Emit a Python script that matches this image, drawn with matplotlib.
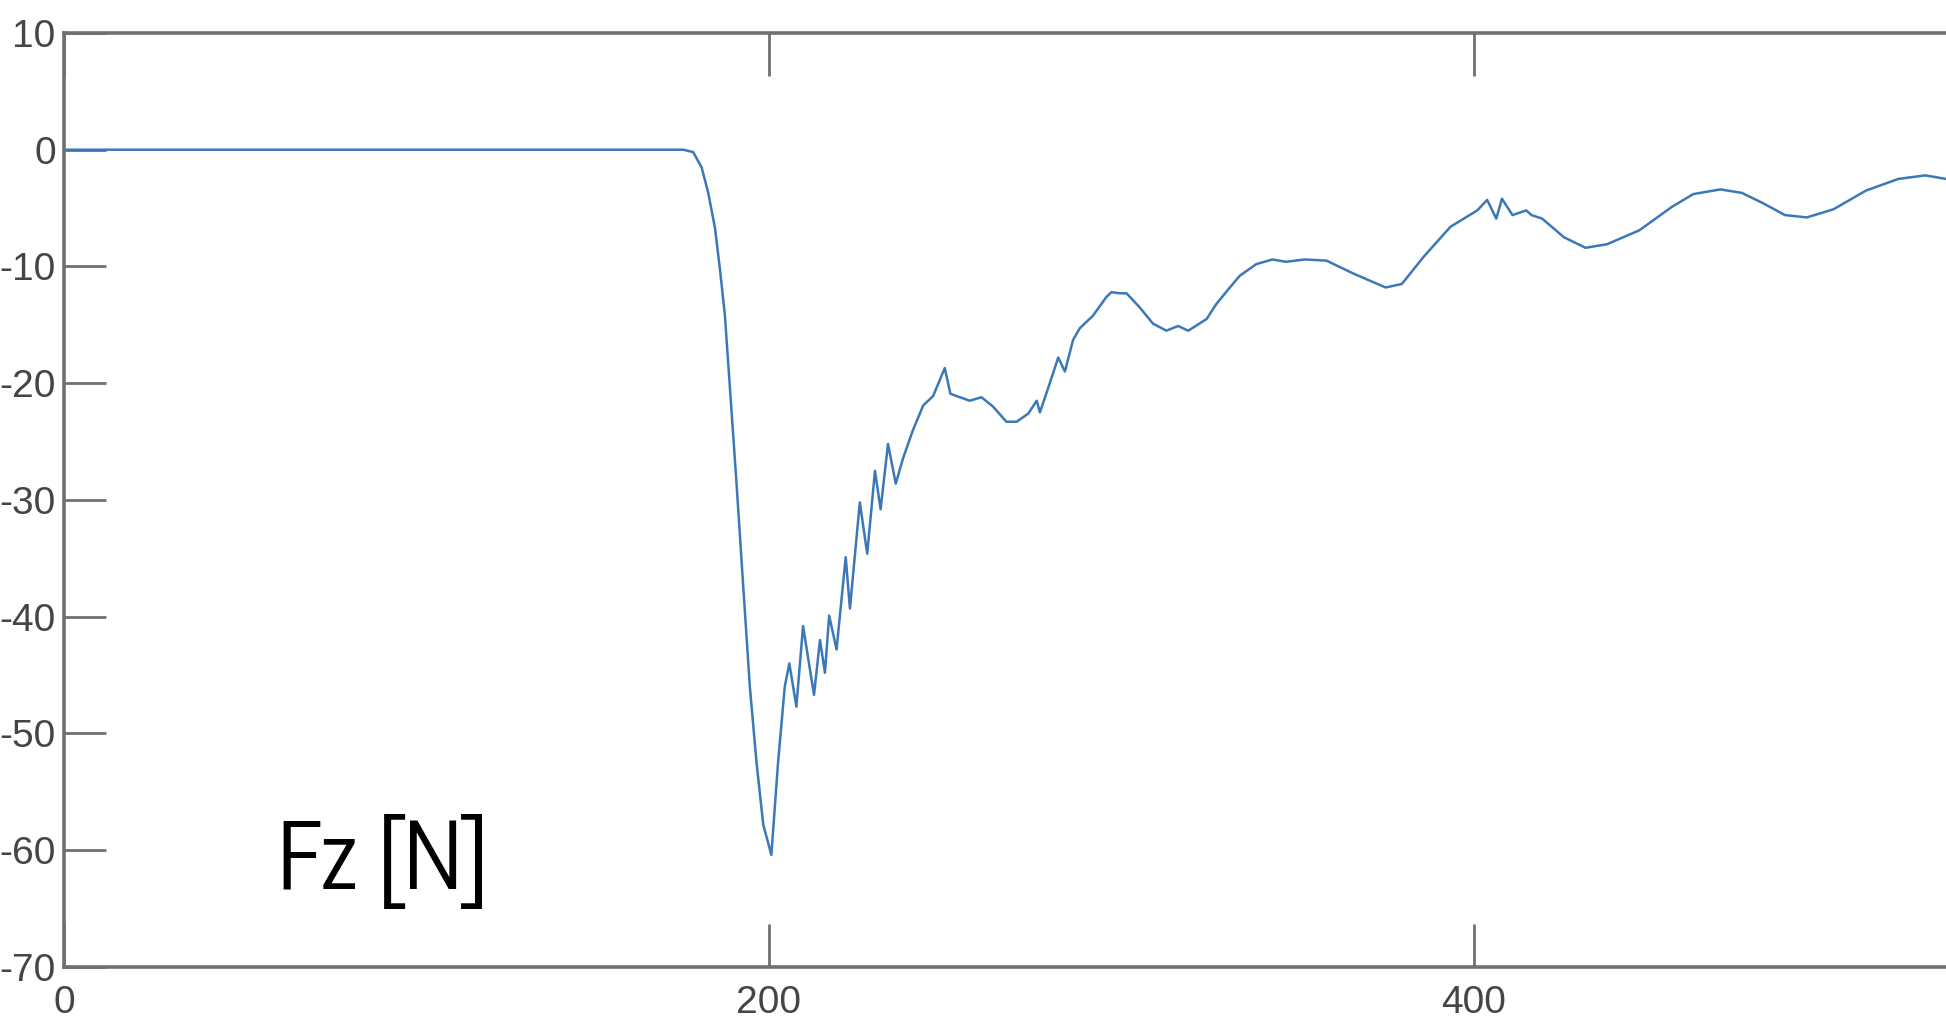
import matplotlib.pyplot as plt
from matplotlib import font_manager
from matplotlib.textpath import TextPath

# sample index vs vertical force
sample = [0, 100, 175.7, 178.5, 180.9, 182.8, 184.7, 186.1, 187.5, 188.9, 190.8,
          192.7, 194.6, 196.5, 198.4, 200.7, 202.6, 204.5, 205.8, 207.8, 209.7,
          212.8, 214.5, 215.9, 217.1, 219.2, 221.8, 223.0, 225.8, 227.9, 230.1,
          231.7, 233.8, 236.0, 238.1, 240.9, 243.8, 246.6, 249.9, 251.5, 254.2,
          257.0, 260.3, 263.6, 267.4, 270.3, 273.6, 276.0, 276.9, 279.7, 282.1,
          284.0, 286.3, 288.2, 292.0, 295.8, 297.2, 299.6, 301.5, 305.2, 309.0,
          312.8, 316.1, 319.0, 324.2, 327.0, 330.8, 333.6, 338.3, 342.9, 346.7,
          352.1, 358.2, 365.8, 375.0, 379.6, 385.7, 393.4, 401.0, 403.8, 406.4,
          408.0, 411.0, 414.9, 416.4, 419.4, 425.6, 431.7, 437.8, 447.0, 456.2,
          462.3, 470.0, 476.1, 482.2, 488.3, 494.5, 502.1, 511.3, 520.5, 528.1,
          534.0]
fz = [0, 0, 0, -0.2, -1.5, -3.7, -6.7, -10.2, -14.1, -20.2, -28.5,
      -37.3, -46.0, -52.5, -57.8, -60.4, -52.5, -46.0, -44.0, -47.7, -40.8,
      -46.7, -42.0, -44.8, -39.9, -42.8, -34.9, -39.3, -30.2, -34.6, -27.5,
      -30.8, -25.2, -28.6, -26.4, -24.0, -21.9, -21.1, -18.7, -20.9, -21.2,
      -21.5, -21.2, -22.0, -23.3, -23.3, -22.6, -21.5, -22.5, -20.0, -17.8,
      -19.0, -16.3, -15.3, -14.2, -12.6, -12.2, -12.3, -12.3, -13.5, -14.9,
      -15.5, -15.1, -15.5, -14.5, -13.2, -11.8, -10.8, -9.8, -9.4, -9.6,
      -9.4, -9.5, -10.6, -11.8, -11.5, -9.2, -6.6, -5.2, -4.3, -5.9,
      -4.2, -5.6, -5.2, -5.6, -5.9, -7.5, -8.4, -8.1, -6.9, -4.9,
      -3.8, -3.4, -3.7, -4.6, -5.6, -5.8, -5.1, -3.5, -2.5, -2.2,
      -2.5]

x_ticks = [0, 200, 400]
y_ticks = [-70, -60, -50, -40, -30, -20, -10, 0, 10]
label_text = 'Fz [N]'

DPI = 100
CAP_PX = 68.6        # height of the "F" in the label, in pixels
WIDTH_RATIO = 2.80   # label ink width / cap height
STEM_RATIO = 0.097   # stroke width of "I" / cap height


def pick_label_font():
    # choose the upright sans face whose proportions best fit the label
    best = None
    for f in font_manager.fontManager.ttflist:
        name = f.name.lower()
        if not any(k in name for k in ('sans', 'roboto', 'lato', 'inter')):
            continue
        if 'mono' in name or 'math' in name or f.style != 'normal':
            continue
        try:
            fp = font_manager.FontProperties(fname=f.fname)
            txt = TextPath((0, 0), label_text, size=100, prop=fp).get_extents()
            cap = TextPath((0, 0), 'F', size=100, prop=fp).get_extents()
            stem = TextPath((0, 0), 'I', size=100, prop=fp).get_extents()
        except Exception:
            continue
        if cap.height <= 0:
            continue
        ratio = txt.width / cap.height
        stem_r = stem.width / cap.height
        score = abs(ratio - WIDTH_RATIO) / WIDTH_RATIO + \
            0.6 * abs(stem_r - STEM_RATIO) / STEM_RATIO
        if best is None or score < best[0]:
            best = (score, f.fname, cap.height / 100.0)
    if best is None:
        return None
    size_pt = CAP_PX * 72.0 / DPI / best[2]
    return font_manager.FontProperties(fname=best[1], size=size_pt)


label_fp = pick_label_font()

fig = plt.figure(figsize=(19.46, 10.33), dpi=DPI)
ax = fig.add_axes([0.0329, 0.0639, 0.9671, 0.9042])

ax.plot(sample, fz, color='#3a78b8', linewidth=1.8)

ax.set_xlim(0, 534)
ax.set_ylim(-70, 10)
ax.set_xticks(x_ticks)
ax.set_yticks(y_ticks)
ax.set_xticklabels([str(t) for t in x_ticks])
ax.set_yticklabels([str(t) for t in y_ticks])

spine_col = '#707070'
for side in ['left', 'bottom', 'top']:
    ax.spines[side].set_color(spine_col)
    ax.spines[side].set_linewidth(2.6)
ax.spines['right'].set_visible(False)

ax.tick_params(axis='x', direction='in', length=31, width=2, color=spine_col,
               top=True, labelsize=28, labelcolor='#454545', pad=13)
ax.tick_params(axis='y', direction='in', length=30, width=2, color=spine_col,
               right=False, labelsize=28, labelcolor='#454545', pad=6)
for lab in ax.get_xticklabels() + ax.get_yticklabels():
    lab.set_family('Liberation Sans')

if label_fp is not None:
    ax.text(60.3, -63.35, label_text, fontproperties=label_fp, color='black',
            ha='left', va='baseline')
else:
    ax.text(60.3, -63.35, label_text, fontsize=58, family='Liberation Sans',
            color='black', ha='left', va='baseline')

fig.savefig('out.png', dpi=DPI)
